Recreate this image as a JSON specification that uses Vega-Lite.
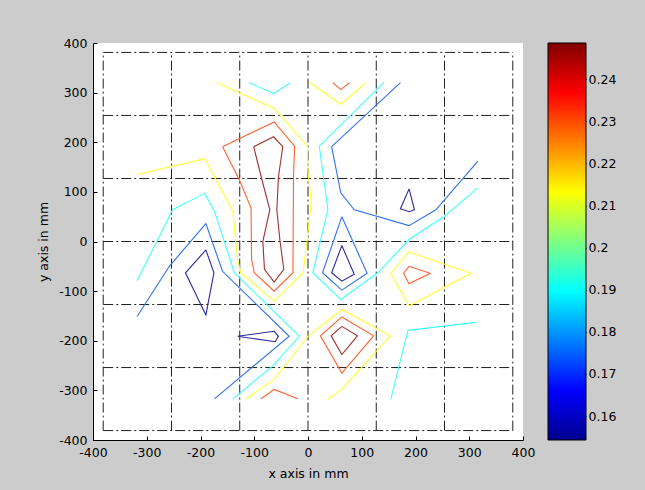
{
  "$schema": "https://vega.github.io/schema/vega-lite/v6.json",
  "background": "#cccccc",
  "padding": {"left": 37, "top": 37, "right": 40, "bottom": 20},
  "bounds": "flush",
  "spacing": 25,
  "config": {
    "view": {"stroke": null, "fill": "white"},
    "font": "DejaVu Sans",
    "axis": {
      "grid": false,
      "domainColor": "#000000",
      "tickColor": "#000000",
      "labelColor": "#000000",
      "titleColor": "#000000",
      "labelFont": "DejaVu Sans",
      "titleFont": "DejaVu Sans",
      "labelFontSize": 12.5,
      "titleFontSize": 12.5,
      "titleFontWeight": "normal",
      "tickSize": -4,
      "labelPadding": 10
    }
  },
  "datasets": {
    "contours": [
      {"id": "c1", "lv": 0.21, "o": 0, "x": -318, "y": 135},
      {"id": "c1", "lv": 0.21, "o": 1, "x": -192, "y": 167},
      {"id": "c1", "lv": 0.21, "o": 2, "x": -140, "y": 61},
      {"id": "c1", "lv": 0.21, "o": 3, "x": -131, "y": -36},
      {"id": "c1", "lv": 0.21, "o": 4, "x": -125, "y": -63},
      {"id": "c1", "lv": 0.21, "o": 5, "x": -63, "y": -120},
      {"id": "c1", "lv": 0.21, "o": 6, "x": -9, "y": -63},
      {"id": "c1", "lv": 0.21, "o": 7, "x": -2, "y": 0},
      {"id": "c1", "lv": 0.21, "o": 8, "x": 6, "y": 80},
      {"id": "c1", "lv": 0.21, "o": 9, "x": 0, "y": 140},
      {"id": "c1", "lv": 0.21, "o": 10, "x": -1, "y": 192},
      {"id": "c1", "lv": 0.21, "o": 11, "x": -63, "y": 268},
      {"id": "c1", "lv": 0.21, "o": 12, "x": -169, "y": 320},

      {"id": "c2", "lv": 0.23, "o": 0, "x": -159, "y": 191},
      {"id": "c2", "lv": 0.23, "o": 1, "x": -128, "y": 125},
      {"id": "c2", "lv": 0.23, "o": 2, "x": -106, "y": 68},
      {"id": "c2", "lv": 0.23, "o": 3, "x": -105, "y": -36},
      {"id": "c2", "lv": 0.23, "o": 4, "x": -100, "y": -63},
      {"id": "c2", "lv": 0.23, "o": 5, "x": -63, "y": -100},
      {"id": "c2", "lv": 0.23, "o": 6, "x": -28, "y": -63},
      {"id": "c2", "lv": 0.23, "o": 7, "x": -27, "y": 128},
      {"id": "c2", "lv": 0.23, "o": 8, "x": -25, "y": 192},
      {"id": "c2", "lv": 0.23, "o": 9, "x": -63, "y": 241},
      {"id": "c2", "lv": 0.23, "o": 10, "x": -159, "y": 191},

      {"id": "c3", "lv": 0.245, "o": 0, "x": -101, "y": 191},
      {"id": "c3", "lv": 0.245, "o": 1, "x": -64, "y": 211},
      {"id": "c3", "lv": 0.245, "o": 2, "x": -47, "y": 191},
      {"id": "c3", "lv": 0.245, "o": 3, "x": -55, "y": 130},
      {"id": "c3", "lv": 0.245, "o": 4, "x": -58, "y": 64},
      {"id": "c3", "lv": 0.245, "o": 5, "x": -52, "y": 0},
      {"id": "c3", "lv": 0.245, "o": 6, "x": -45, "y": -56},
      {"id": "c3", "lv": 0.245, "o": 7, "x": -63, "y": -82},
      {"id": "c3", "lv": 0.245, "o": 8, "x": -81, "y": -56},
      {"id": "c3", "lv": 0.245, "o": 9, "x": -84, "y": 0},
      {"id": "c3", "lv": 0.245, "o": 10, "x": -71, "y": 64},
      {"id": "c3", "lv": 0.245, "o": 11, "x": -87, "y": 130},
      {"id": "c3", "lv": 0.245, "o": 12, "x": -101, "y": 191},

      {"id": "c4", "lv": 0.19, "o": 0, "x": -109, "y": 320},
      {"id": "c4", "lv": 0.19, "o": 1, "x": -64, "y": 298},
      {"id": "c4", "lv": 0.19, "o": 2, "x": -33, "y": 320},

      {"id": "c5", "lv": 0.19, "o": 0, "x": -318, "y": -79},
      {"id": "c5", "lv": 0.19, "o": 1, "x": -261, "y": 44},
      {"id": "c5", "lv": 0.19, "o": 2, "x": -252, "y": 64},
      {"id": "c5", "lv": 0.19, "o": 3, "x": -192, "y": 97},
      {"id": "c5", "lv": 0.19, "o": 4, "x": -174, "y": 61},
      {"id": "c5", "lv": 0.19, "o": 5, "x": -137, "y": -63},
      {"id": "c5", "lv": 0.19, "o": 6, "x": -16, "y": -191},
      {"id": "c5", "lv": 0.19, "o": 7, "x": -66, "y": -251},
      {"id": "c5", "lv": 0.19, "o": 8, "x": -140, "y": -317},

      {"id": "c6", "lv": 0.175, "o": 0, "x": -318, "y": -151},
      {"id": "c6", "lv": 0.175, "o": 1, "x": -258, "y": -50},
      {"id": "c6", "lv": 0.175, "o": 2, "x": -190, "y": 36},
      {"id": "c6", "lv": 0.175, "o": 3, "x": -159, "y": -60},
      {"id": "c6", "lv": 0.175, "o": 4, "x": -35, "y": -191},
      {"id": "c6", "lv": 0.175, "o": 5, "x": -174, "y": -317},

      {"id": "c7", "lv": 0.16, "o": 0, "x": -190, "y": -17},
      {"id": "c7", "lv": 0.16, "o": 1, "x": -175, "y": -63},
      {"id": "c7", "lv": 0.16, "o": 2, "x": -190, "y": -148},
      {"id": "c7", "lv": 0.16, "o": 3, "x": -228, "y": -63},
      {"id": "c7", "lv": 0.16, "o": 4, "x": -190, "y": -17},

      {"id": "c8", "lv": 0.16, "o": 0, "x": -131, "y": -191},
      {"id": "c8", "lv": 0.16, "o": 1, "x": -63, "y": -181},
      {"id": "c8", "lv": 0.16, "o": 2, "x": -55, "y": -191},
      {"id": "c8", "lv": 0.16, "o": 3, "x": -61, "y": -202},
      {"id": "c8", "lv": 0.16, "o": 4, "x": -131, "y": -191},

      {"id": "c9", "lv": 0.175, "o": 0, "x": 172, "y": 320},
      {"id": "c9", "lv": 0.175, "o": 1, "x": 44, "y": 191},
      {"id": "c9", "lv": 0.175, "o": 2, "x": 61, "y": 98},
      {"id": "c9", "lv": 0.175, "o": 3, "x": 86, "y": 64},
      {"id": "c9", "lv": 0.175, "o": 4, "x": 188, "y": 32},
      {"id": "c9", "lv": 0.175, "o": 5, "x": 238, "y": 64},
      {"id": "c9", "lv": 0.175, "o": 6, "x": 316, "y": 162},

      {"id": "c10", "lv": 0.19, "o": 0, "x": 141, "y": 320},
      {"id": "c10", "lv": 0.19, "o": 1, "x": 21, "y": 192},
      {"id": "c10", "lv": 0.19, "o": 2, "x": 37, "y": 64},
      {"id": "c10", "lv": 0.19, "o": 3, "x": 9, "y": -63},
      {"id": "c10", "lv": 0.19, "o": 4, "x": 61, "y": -117},
      {"id": "c10", "lv": 0.19, "o": 5, "x": 130, "y": -63},
      {"id": "c10", "lv": 0.19, "o": 6, "x": 188, "y": 4},
      {"id": "c10", "lv": 0.19, "o": 7, "x": 254, "y": 51},
      {"id": "c10", "lv": 0.19, "o": 8, "x": 316, "y": 108},

      {"id": "c11", "lv": 0.175, "o": 0, "x": 63, "y": 50},
      {"id": "c11", "lv": 0.175, "o": 1, "x": 110, "y": -64},
      {"id": "c11", "lv": 0.175, "o": 2, "x": 63, "y": -98},
      {"id": "c11", "lv": 0.175, "o": 3, "x": 27, "y": -63},
      {"id": "c11", "lv": 0.175, "o": 4, "x": 63, "y": 50},

      {"id": "c12", "lv": 0.16, "o": 0, "x": 63, "y": -8},
      {"id": "c12", "lv": 0.16, "o": 1, "x": 86, "y": -66},
      {"id": "c12", "lv": 0.16, "o": 2, "x": 63, "y": -80},
      {"id": "c12", "lv": 0.16, "o": 3, "x": 44, "y": -63},
      {"id": "c12", "lv": 0.16, "o": 4, "x": 63, "y": -8},

      {"id": "c13", "lv": 0.16, "o": 0, "x": 188, "y": 106},
      {"id": "c13", "lv": 0.16, "o": 1, "x": 198, "y": 64},
      {"id": "c13", "lv": 0.16, "o": 2, "x": 188, "y": 60},
      {"id": "c13", "lv": 0.16, "o": 3, "x": 172, "y": 66},
      {"id": "c13", "lv": 0.16, "o": 4, "x": 188, "y": 106},

      {"id": "c14", "lv": 0.21, "o": 0, "x": 188, "y": -21},
      {"id": "c14", "lv": 0.21, "o": 1, "x": 303, "y": -64},
      {"id": "c14", "lv": 0.21, "o": 2, "x": 188, "y": -130},
      {"id": "c14", "lv": 0.21, "o": 3, "x": 154, "y": -64},
      {"id": "c14", "lv": 0.21, "o": 4, "x": 188, "y": -21},

      {"id": "c15", "lv": 0.23, "o": 0, "x": 188, "y": -50},
      {"id": "c15", "lv": 0.23, "o": 1, "x": 227, "y": -64},
      {"id": "c15", "lv": 0.23, "o": 2, "x": 188, "y": -85},
      {"id": "c15", "lv": 0.23, "o": 3, "x": 178, "y": -64},
      {"id": "c15", "lv": 0.23, "o": 4, "x": 188, "y": -50},

      {"id": "c16", "lv": 0.21, "o": 0, "x": -115, "y": -317},
      {"id": "c16", "lv": 0.21, "o": 1, "x": -63, "y": -278},
      {"id": "c16", "lv": 0.21, "o": 2, "x": 0, "y": -191},
      {"id": "c16", "lv": 0.21, "o": 3, "x": 63, "y": -137},
      {"id": "c16", "lv": 0.21, "o": 4, "x": 153, "y": -190},
      {"id": "c16", "lv": 0.21, "o": 5, "x": 63, "y": -298},
      {"id": "c16", "lv": 0.21, "o": 6, "x": 37, "y": -318},

      {"id": "c17", "lv": 0.23, "o": 0, "x": 63, "y": -152},
      {"id": "c17", "lv": 0.23, "o": 1, "x": 122, "y": -190},
      {"id": "c17", "lv": 0.23, "o": 2, "x": 63, "y": -265},
      {"id": "c17", "lv": 0.23, "o": 3, "x": 23, "y": -190},
      {"id": "c17", "lv": 0.23, "o": 4, "x": 63, "y": -152},

      {"id": "c18", "lv": 0.245, "o": 0, "x": 63, "y": -171},
      {"id": "c18", "lv": 0.245, "o": 1, "x": 92, "y": -190},
      {"id": "c18", "lv": 0.245, "o": 2, "x": 63, "y": -228},
      {"id": "c18", "lv": 0.245, "o": 3, "x": 43, "y": -190},
      {"id": "c18", "lv": 0.245, "o": 4, "x": 63, "y": -171},

      {"id": "c19", "lv": 0.19, "o": 0, "x": 313, "y": -163},
      {"id": "c19", "lv": 0.19, "o": 1, "x": 186, "y": -179},
      {"id": "c19", "lv": 0.19, "o": 2, "x": 154, "y": -318},

      {"id": "c20", "lv": 0.21, "o": 0, "x": 4, "y": 320},
      {"id": "c20", "lv": 0.21, "o": 1, "x": 61, "y": 276},
      {"id": "c20", "lv": 0.21, "o": 2, "x": 108, "y": 320},

      {"id": "c21", "lv": 0.23, "o": 0, "x": 46, "y": 320},
      {"id": "c21", "lv": 0.23, "o": 1, "x": 61, "y": 306},
      {"id": "c21", "lv": 0.23, "o": 2, "x": 77, "y": 320},

      {"id": "c22", "lv": 0.23, "o": 0, "x": -87, "y": -317},
      {"id": "c22", "lv": 0.23, "o": 1, "x": -63, "y": -298},
      {"id": "c22", "lv": 0.23, "o": 2, "x": -19, "y": -317}
    ],
    "grid": [
      {"gx": -381, "gx2": -381, "gy": -381, "gy2": 381},
      {"gx": -254, "gx2": -254, "gy": -381, "gy2": 381},
      {"gx": -127, "gx2": -127, "gy": -381, "gy2": 381},
      {"gx": 0, "gx2": 0, "gy": -381, "gy2": 381},
      {"gx": 127, "gx2": 127, "gy": -381, "gy2": 381},
      {"gx": 254, "gx2": 254, "gy": -381, "gy2": 381},
      {"gx": 381, "gx2": 381, "gy": -381, "gy2": 381},
      {"gx": -381, "gx2": 381, "gy": -381, "gy2": -381},
      {"gx": -381, "gx2": 381, "gy": -254, "gy2": -254},
      {"gx": -381, "gx2": 381, "gy": -127, "gy2": -127},
      {"gx": -381, "gx2": 381, "gy": 0, "gy2": 0},
      {"gx": -381, "gx2": 381, "gy": 127, "gy2": 127},
      {"gx": -381, "gx2": 381, "gy": 254, "gy2": 254},
      {"gx": -381, "gx2": 381, "gy": 381, "gy2": 381}
    ],
    "cbar": [
      {"c0": 0, "c1": 1, "lo": 0.1543, "hi": 0.2486}
    ]
  },
  "hconcat": [
    {
      "width": 430,
      "height": 397,
      "layer": [
        {
          "data": {"name": "grid"},
          "mark": {"type": "rule", "color": "#202020", "strokeWidth": 1, "strokeDash": [10, 3, 2, 3]},
          "encoding": {
            "x": {"field": "gx", "type": "quantitative"},
            "x2": {"field": "gx2"},
            "y": {"field": "gy", "type": "quantitative"},
            "y2": {"field": "gy2"}
          }
        },
        {
          "data": {"name": "contours"},
          "mark": {"type": "line", "strokeWidth": 1.1, "interpolate": "linear"},
          "encoding": {
            "x": {
              "field": "x", "type": "quantitative",
              "scale": {"domain": [-400, 400], "nice": false, "zero": false},
              "axis": {
                "title": "x axis in mm",
                "values": [-400, -300, -200, -100, 0, 100, 200, 300, 400],
                "labelExpr": "datum.value < 0 ? '-' + abs(datum.value) : '' + datum.value",
                "titlePadding": 9,
                "labelFlush": false
              }
            },
            "y": {
              "field": "y", "type": "quantitative",
              "scale": {"domain": [-400, 400], "nice": false, "zero": false},
              "axis": {
                "title": "y axis in mm",
                "values": [-400, -300, -200, -100, 0, 100, 200, 300, 400],
                "labelExpr": "datum.value < 0 ? '-' + abs(datum.value) : '' + datum.value",
                "titlePadding": 8,
                "labelFlush": false
              }
            },
            "detail": {"field": "id"},
            "order": {"field": "o", "type": "quantitative"},
            "color": {
              "field": "lv", "type": "ordinal",
              "scale": {
                "domain": [0.16, 0.175, 0.19, 0.21, 0.23, 0.245],
                "range": ["#2a2aa0", "#3070f0", "#40ffff", "#ffff30", "#ff6030", "#a03030"]
              },
              "legend": null
            }
          }
        }
      ]
    },
    {
      "width": 38,
      "height": 397,
      "data": {"name": "cbar"},
      "layer": [
        {
          "mark": {
            "type": "rect",
            "stroke": "#000000",
            "strokeWidth": 1,
            "color": {
              "gradient": "linear",
              "x1": 0, "y1": 1, "x2": 0, "y2": 0,
              "stops": [
                {"offset": 0, "color": "#00008f"},
                {"offset": 0.125, "color": "#0000ff"},
                {"offset": 0.375, "color": "#00ffff"},
                {"offset": 0.625, "color": "#ffff00"},
                {"offset": 0.875, "color": "#ff0000"},
                {"offset": 1, "color": "#800000"}
              ]
            }
          },
          "encoding": {
            "x": {"field": "c0", "type": "quantitative", "scale": {"domain": [0, 1], "nice": false}, "axis": null},
            "x2": {"field": "c1"},
            "y": {
              "field": "lo", "type": "quantitative",
              "scale": {"domain": [0.1543, 0.2486], "nice": false, "zero": false},
              "axis": {
                "orient": "right",
                "title": null,
                "domain": false,
                "values": [0.16, 0.17, 0.18, 0.19, 0.2, 0.21, 0.22, 0.23, 0.24],
                "format": ".2~f",
                "labelPadding": 6,
                "labelFlush": false
              }
            },
            "y2": {"field": "hi"}
          }
        },
        {
          "mark": {"type": "rect", "fillOpacity": 0, "strokeOpacity": 0},
          "encoding": {
            "x": {"field": "c0", "type": "quantitative", "scale": {"domain": [0, 1], "nice": false}, "axis": null},
            "x2": {"field": "c1"},
            "y": {
              "field": "lo", "type": "quantitative",
              "axis": {
                "orient": "left",
                "title": null,
                "domain": false,
                "labels": false,
                "values": [0.16, 0.17, 0.18, 0.19, 0.2, 0.21, 0.22, 0.23, 0.24]
              }
            },
            "y2": {"field": "hi"}
          }
        }
      ],
      "resolve": {"axis": {"y": "independent"}}
    }
  ]
}
